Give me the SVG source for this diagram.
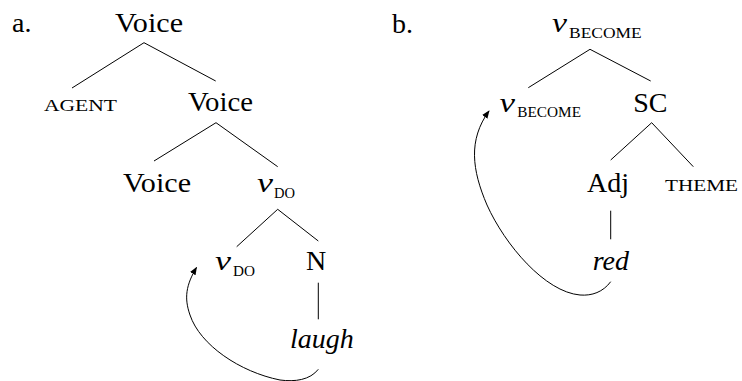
<svg xmlns="http://www.w3.org/2000/svg" width="742" height="381" viewBox="0 0 742 381">
<style>
text{font-family:"Liberation Serif","DejaVu Serif","Times New Roman",serif;fill:#000}
.n{font-size:28px}
.i{font-size:28px;font-style:italic}
.sc{font-size:17px}
.sub{font-size:14px}
.e{stroke:#000;stroke-width:1;fill:none}
.mv{stroke:#000;stroke-width:1;fill:none;marker-end:url(#ah)}
</style>
<defs>
<marker id="ah" viewBox="0 0 10 10" refX="9" refY="5" markerWidth="8" markerHeight="8" markerUnits="userSpaceOnUse" orient="auto">
<path d="M0,1 L10,5 L0,9 Z" fill="#000"/>
</marker>
</defs>
<rect width="742" height="381" fill="#fff"/>
<g id="labels">
<text class="n" x="12" y="32">a.</text>
<text class="n" x="392" y="33">b.</text>
</g>
<g id="a-voice-root"><text class="n" x="115" y="32" textLength="68" lengthAdjust="spacingAndGlyphs">Voice</text></g>
<g id="a-agent"><text class="sc" x="44" y="111" textLength="73" lengthAdjust="spacingAndGlyphs">AGENT</text></g>
<g id="a-voice-2"><text class="n" x="188" y="111" textLength="65" lengthAdjust="spacingAndGlyphs">Voice</text></g>
<g id="a-voice-3"><text class="n" x="123" y="191.5" textLength="68" lengthAdjust="spacingAndGlyphs">Voice</text></g>
<g id="a-vdo-1"><text class="i" x="257" y="191.5" textLength="16" lengthAdjust="spacingAndGlyphs">v</text><text class="sub" x="274" y="198" textLength="21" lengthAdjust="spacingAndGlyphs">DO</text></g>
<g id="a-vdo-2"><text class="i" x="215" y="270" textLength="16" lengthAdjust="spacingAndGlyphs">v</text><text class="sub" x="233" y="276" textLength="22" lengthAdjust="spacingAndGlyphs">DO</text></g>
<g id="a-n"><text class="n" x="306" y="270">N</text></g>
<g id="a-laugh"><text class="i" x="290" y="348">laugh</text></g>
<g id="b-vbecome-root"><text class="i" x="552" y="32" textLength="15" lengthAdjust="spacingAndGlyphs">v</text><text class="sub" x="569" y="38.3" textLength="72.7" lengthAdjust="spacingAndGlyphs">BECOME</text></g>
<g id="b-vbecome-2"><text class="i" x="499.5" y="111.7" textLength="15.5" lengthAdjust="spacingAndGlyphs">v</text><text class="sub" x="517.3" y="117.3" textLength="63.7" lengthAdjust="spacingAndGlyphs">BECOME</text></g>
<g id="b-sc"><text class="n" x="633.3" y="111.7">SC</text></g>
<g id="b-adj"><text class="n" x="587" y="191.5">Adj</text></g>
<g id="b-theme"><text class="sc" x="665" y="191" textLength="73" lengthAdjust="spacingAndGlyphs">THEME</text></g>
<g id="b-red"><text class="i" x="592.7" y="270">red</text></g>
<g id="connectors">
<path class="e" d="M144,42.7 L72,88 M144,42.7 L215.7,81"/>
<path class="e" d="M216,122.7 L154,161 M216,122.7 L277.7,166.7"/>
<path class="e" d="M277.7,209.3 L236.7,246.7 M277.7,209.3 L318.3,241"/>
<path class="e" d="M318.3,282.7 L318.3,319.3"/>
<path class="e" d="M590,49.3 L528.3,87.7 M590,49.3 L650.7,81"/>
<path class="e" d="M651.7,122.7 L610.7,160 M651.7,122.7 L693.3,166.7"/>
<path class="e" d="M610.7,210.7 L610.7,239.3"/>
<path class="mv" d="M318.3,369.3 C310,380 295,382 280,380 C240,372 200,345 190,315 C184,298 186,285 196.5,267.5"/>
<path class="mv" d="M610.7,281.7 C603,292 592,296 580,295 C545,292 505,245 487,205 C472,170 468,140 489,111"/>
</g>
</svg>
